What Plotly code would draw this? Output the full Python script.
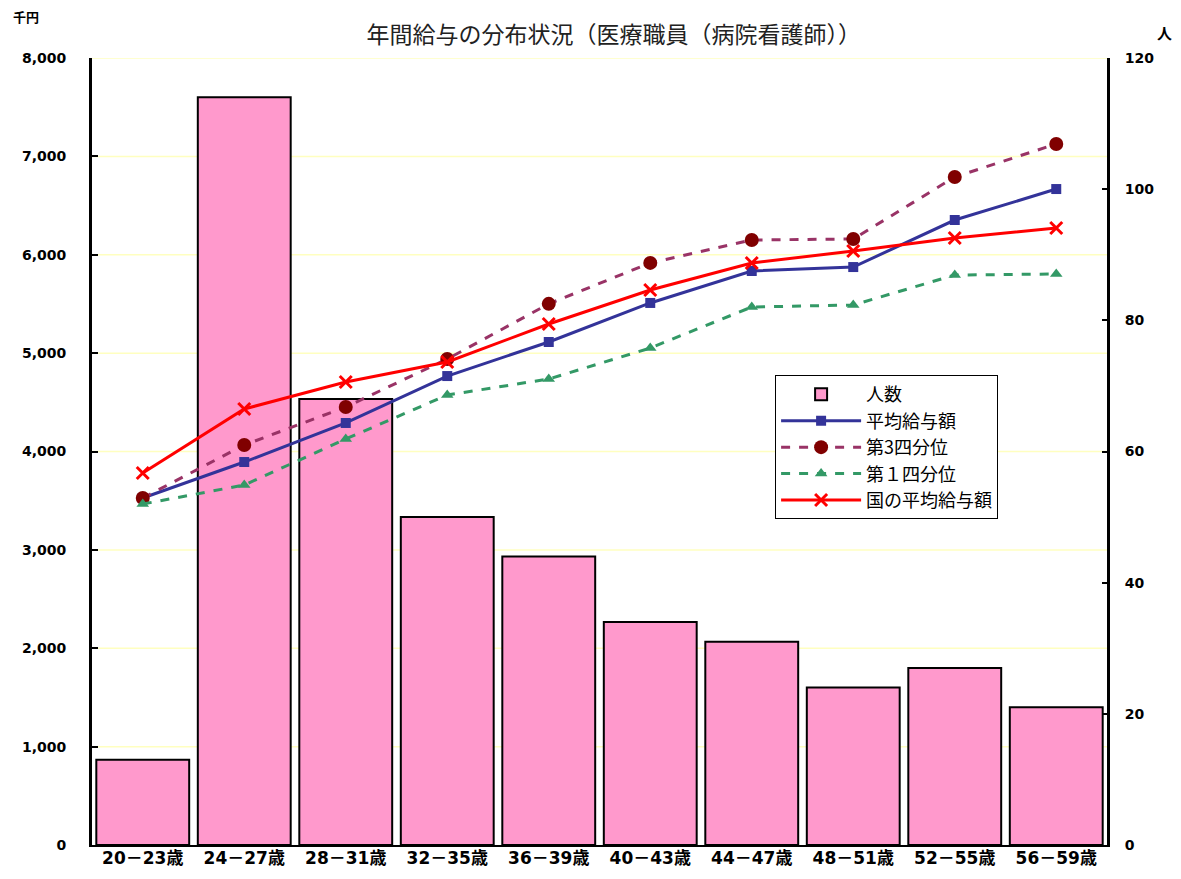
import plotly.graph_objects as go

categories = ["20－23歳", "24－27歳", "28－31歳", "32－35歳", "36－39歳",
              "40－43歳", "44－47歳", "48－51歳", "52－55歳", "56－59歳"]
headcount = [13, 114, 68, 50, 44, 34, 31, 24, 27, 21]
avg_salary = [3527, 3893, 4290, 4767, 5113, 5510, 5835, 5875, 6353, 6668]
q3_salary = [3527, 4066, 4452, 4940, 5501, 5917, 6150, 6160, 6790, 7126]
q1_salary = [3466, 3659, 4127, 4574, 4737, 5052, 5469, 5489, 5794, 5804]
national_avg = [3781, 4432, 4706, 4910, 5296, 5642, 5916, 6038, 6170, 6272]
left_ticks = [0, 1000, 2000, 3000, 4000, 5000, 6000, 7000, 8000]
right_ticks = [0, 20, 40, 60, 80, 100, 120]

fig = go.Figure()
fig.add_trace(go.Bar(
    x=categories, y=headcount, name="人数", yaxis="y",
    marker=dict(color="#FF99CC", line=dict(color="black", width=2)),
))
fig.add_trace(go.Scatter(
    x=categories, y=avg_salary, name="平均給与額", yaxis="y2", mode="lines+markers",
    line=dict(color="#333399", width=3),
    marker=dict(symbol="square", size=10, color="#333399"),
))
fig.add_trace(go.Scatter(
    x=categories, y=q3_salary, name="第3四分位", yaxis="y2", mode="lines+markers",
    line=dict(color="#993366", width=3, dash="dash"),
    marker=dict(symbol="circle", size=14, color="#800000"),
))
fig.add_trace(go.Scatter(
    x=categories, y=q1_salary, name="第１四分位", yaxis="y2", mode="lines+markers",
    line=dict(color="#339966", width=3, dash="dash"),
    marker=dict(symbol="triangle-up", size=11, color="#339966"),
))
fig.add_trace(go.Scatter(
    x=categories, y=national_avg, name="国の平均給与額", yaxis="y2", mode="lines+markers",
    line=dict(color="#FF0000", width=3),
    marker=dict(symbol="x-thin", size=12, color="#FF0000", line=dict(color="#FF0000", width=3)),
))

shapes = []
for v in left_ticks[1:]:
    shapes.append(dict(type="line", xref="paper", x0=0, x1=1, yref="y2", y0=v, y1=v,
                       line=dict(color="#FFFFC0", width=1.5), layer="below"))

tickfont = dict(family="DejaVu Sans", size=14, color="black", weight="bold")

fig.update_layout(
    width=1165, height=863,
    margin=dict(l=84, r=66, t=50, b=26, autoexpand=False),
    paper_bgcolor="white", plot_bgcolor="white",
    bargap=0.085,
    shapes=shapes,
    title=dict(text="年間給与の分布状況（医療職員（病院看護師））",
               x=0.52, xanchor="center", y=0.969, yanchor="middle",
               font=dict(family="Noto Sans CJK JP", size=23, color="#222222")),
    xaxis=dict(showline=True, linecolor="black", linewidth=2, ticks="",
               showgrid=False, zeroline=False, range=[-0.5, 9.5], automargin=False,
               ticklabelstandoff=-3,
               tickfont=dict(family="DejaVu Sans, Noto Sans CJK JP", size=17,
                             color="black", weight="bold")),
    yaxis=dict(side="right", range=[0, 120], tickvals=right_ticks, automargin=False,
               showgrid=False, zeroline=False, showline=True, linecolor="black", linewidth=3,
               ticks="inside", ticklen=5, tickwidth=2, tickcolor="black",
               tickfont=tickfont, ticklabelstandoff=12),
    yaxis2=dict(overlaying="y", side="left", range=[0, 8000], tickvals=left_ticks,
                ticktext=[f"{v:,}" for v in left_ticks], automargin=False,
                showgrid=False, zeroline=False, showline=True, linecolor="black", linewidth=3,
                ticks="inside", ticklen=6, tickwidth=2, tickcolor="black",
                tickfont=tickfont, ticklabelstandoff=20),
    legend=dict(x=0.673, y=0.597, xanchor="left", yanchor="top",
                bgcolor="white", bordercolor="black", borderwidth=1,
                font=dict(family="Noto Sans CJK JP", size=18, color="black"),
                traceorder="normal", itemwidth=80),
    showlegend=True,
    annotations=[
        dict(text="千円", xref="paper", yref="paper", x=-0.065, y=1.053,
             xanchor="center", yanchor="middle", showarrow=False,
             font=dict(family="Noto Sans CJK JP", size=13, color="black", weight="bold")),
        dict(text="人", xref="paper", yref="paper", x=1.057, y=1.032,
             xanchor="center", yanchor="middle", showarrow=False,
             font=dict(family="Noto Sans CJK JP", size=15, color="black", weight="bold")),
    ],
)

fig.write_html("out.html")
